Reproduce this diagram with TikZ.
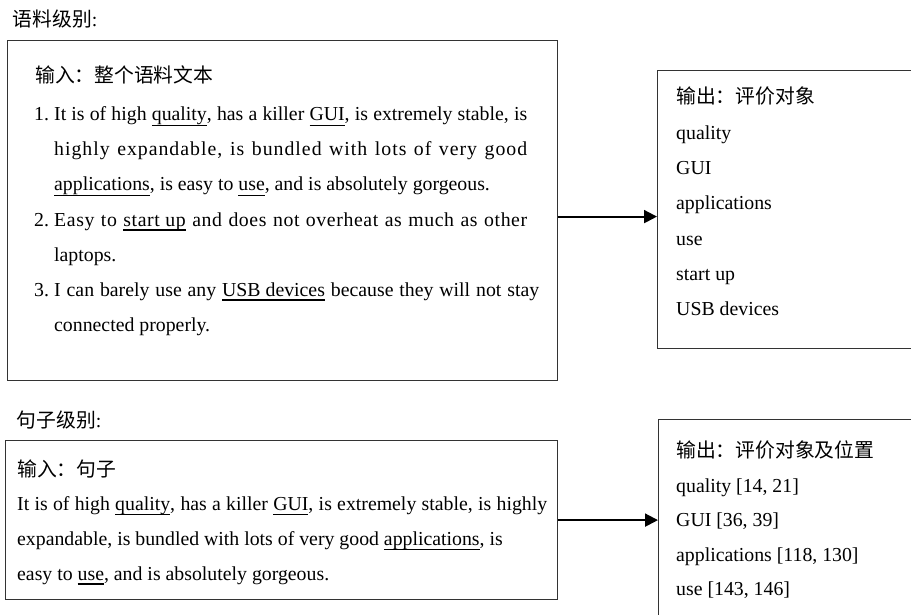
\documentclass[tikz,border=0pt]{standalone}
\usepackage{fontspec}
\setmainfont{Liberation Serif}
\newfontfamily\cjk{Noto Sans CJK SC}
\usetikzlibrary{arrows.meta}

% underlines of two weights, at a fixed depth below the baseline
\newsavebox\ulbox
\newcommand\ulwith[2]{\sbox\ulbox{#2}\rlap{\rule[-5pt]{\wd\ulbox}{#1}}\usebox\ulbox}
\newcommand\ulthin[1]{\ulwith{1pt}{#1}}
\newcommand\ulbold[1]{\ulwith{1.9pt}{#1}}
\newcommand\bodyfont{\fontsize{19.8}{24}\selectfont}
% list number followed by a justified line of given width
\newcommand\numline[3]{\makebox[20pt][l]{#1}\makebox[#2][s]{#3}}

\begin{document}
\begin{tikzpicture}[x=1pt,y=-1pt,
  frame/.style={draw=black!80, line width=1.2pt, inner sep=0pt, anchor=north west},
  txt/.style={anchor=base west, inner sep=0pt, font=\bodyfont},
  link/.style={draw=black, line width=2pt, -{Triangle[length=13pt,width=13pt]}}]
\useasboundingbox (0,0) rectangle (911,615);
\clip (0,0) rectangle (911,615);
\fill[white] (0,0) rectangle (911,615);

% ---------- corpus level ----------
\node[txt] (title1) at (12.5,27) {{\cjk 语料级别}:};
\node[frame, minimum width=550pt, minimum height=340pt] (in1) at (7,40) {};
\node[frame, minimum width=320pt, minimum height=278pt] (out1) at (657,70) {};

\node[txt] (in1a) at (35,83) {\cjk 输入：整个语料文本};
\node[txt] (in1b) at (34,121) {\numline{1.}{473pt}{It is of high \ulthin{quality}, has a killer \ulthin{GUI}, is extremely stable, is}};
\node[txt] (in1c) at (54,156) {\addfontfeature{LetterSpace=5}\makebox[473pt][s]{highly expandable, is bundled with lots of very good}};
\node[txt] (in1d) at (54,191) {\ulthin{applications}, is easy to \ulthin{use}, and is absolutely gorgeous.};
\node[txt] (in1e) at (34,226) {\numline{2.}{473pt}{\addfontfeature{LetterSpace=3}Easy to \ulbold{start up} and does not overheat as much as other}};
\node[txt] (in1f) at (54,261) {laptops.};
\node[txt] (in1g) at (34,296) {\numline{3.}{485pt}{I can barely use any \ulbold{USB devices} because they will not stay}};
\node[txt] (in1h) at (54,331) {connected properly.};

\node[txt] (out1a) at (676,104) {\cjk 输出：评价对象};
\node[txt] (out1b) at (676,140) {quality};
\node[txt] (out1c) at (676,175) {GUI};
\node[txt] (out1d) at (676,210) {applications};
\node[txt] (out1e) at (676,245) {use};
\node[txt] (out1f) at (676,280) {start up};
\node[txt] (out1g) at (676,315) {USB devices};

\draw[link] ([yshift=-6pt]in1.east) -- ([yshift=-6pt]in1.east -| out1.west);

% ---------- sentence level ----------
\node[txt] (title2) at (16.5,427) {{\cjk 句子级别}:};
\node[frame, minimum width=552pt, minimum height=159pt] (in2) at (5,440) {};
\node[frame, minimum width=320pt, minimum height=230pt] (out2) at (658,419) {};

\node[txt] (in2a) at (17,476) {\cjk 输入：句子};
\node[txt] (in2b) at (17,510) {\makebox[530pt][s]{It is of high \ulthin{quality}, has a killer \ulthin{GUI}, is extremely stable, is highly}};
\node[txt] (in2c) at (17,545) {expandable, is bundled with lots of very good \ulthin{applications}, is};
\node[txt] (in2d) at (17,580) {easy to \ulbold{use}, and is absolutely gorgeous.};

\node[txt] (out2a) at (676,457) {\cjk 输出：评价对象及位置};
\node[txt] (out2b) at (676,492) {quality [14, 21]};
\node[txt] (out2c) at (676,526) {GUI [36, 39]};
\node[txt] (out2d) at (676,561) {applications [118, 130]};
\node[txt] (out2e) at (676,595) {use [143, 146]};

\draw[link] (in2.east) -- (in2.east -| out2.west);
\end{tikzpicture}
\end{document}
